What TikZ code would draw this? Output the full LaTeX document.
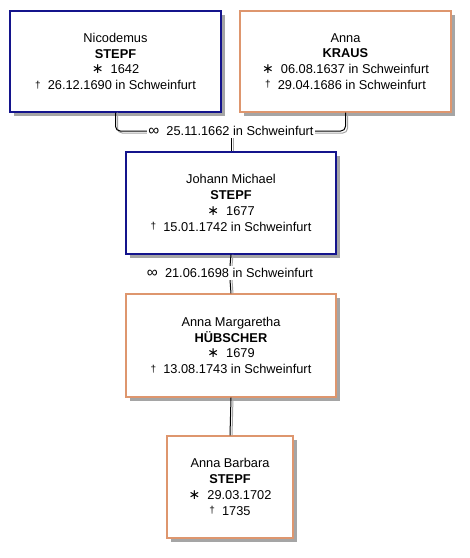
\documentclass[tikz,border=0pt]{standalone}
\usepackage{fontspec}
\setmainfont{Liberation Sans}
\newfontfamily\symf{DejaVu Sans}
\usetikzlibrary{shadows}
\definecolor{navyb}{RGB}{20,20,140}
\definecolor{orangeb}{RGB}{222,150,110}
\definecolor{shadowg}{RGB}{165,165,165}
\newcommand{\bornsym}{{\symf\fontsize{10.5}{10}\selectfont ∗}}
\newcommand{\diedsym}{{\fontsize{7.5}{9}\selectfont\raisebox{1.2pt}{†}}}
\newcommand{\marrsym}{{\fontsize{11.5}{10}\selectfont ∞}}
\tikzset{
  person/.style={draw, line width=0.9pt, fill=white, align=center, inner sep=0pt,
    font=\fontsize{9.6}{11.8}\selectfont,
    drop shadow={shadow xshift=3pt, shadow yshift=-3pt, fill=shadowg, opacity=1}},
  male/.style={person, draw=navyb},
  female/.style={person, draw=orangeb},
  conn/.style={draw=black, line width=0.75pt},
  connsh/.style={draw=shadowg, line width=0.75pt},
  marr/.style={inner xsep=1pt, inner ysep=1.6pt, font=\fontsize{9.6}{11.8}\selectfont},
}
\begin{document}
\begin{tikzpicture}[x=0.75pt, y=-0.75pt]
\useasboundingbox[fill=white] (0,0) rectangle (470,558);

\node[male, minimum width=158.25pt, minimum height=75.75pt] (b1) at (115.5,61.5)
  {Nicodemus\\\textbf{STEPF}\\\bornsym\ \ 1642\\\diedsym\ \ 26.12.1690 in Schweinfurt};
\node[female, minimum width=158.25pt, minimum height=75.75pt] (b2) at (345.5,61.5)
  {Anna\\\textbf{KRAUS}\\\bornsym\ \ 06.08.1637 in Schweinfurt\\\diedsym\ \ 29.04.1686 in Schweinfurt};
\node[male, minimum width=157.5pt, minimum height=76.5pt] (b3) at (231,203)
  {Johann Michael\\\textbf{STEPF}\\\bornsym\ \ 1677\\\diedsym\ \ 15.01.1742 in Schweinfurt};
\node[female, minimum width=157.5pt, minimum height=77.25pt] (b4) at (231,345.5)
  {Anna Margaretha\\\textbf{HÜBSCHER}\\\bornsym\ \ 1679\\\diedsym\ \ 13.08.1743 in Schweinfurt};
\node[female, minimum width=94.5pt, minimum height=76.5pt] (b5) at (230,487)
  {Anna Barbara\\\textbf{STEPF}\\\bornsym\ \ 29.03.1702\\\diedsym\ \ 1735};

\node[marr] (m1) at (231,131) {\marrsym\ \ 25.11.1662 in Schweinfurt};
\node[marr] (m2) at (230,273) {\marrsym\ \ 21.06.1698 in Schweinfurt};

% connector shadows
\draw[connsh, rounded corners=3.5pt] ([xshift=1.5pt]b1.south) |- ([yshift=-1.5pt]m1.west);
\draw[connsh, rounded corners=3.5pt] ([yshift=-1.5pt]m1.east) -| ([xshift=1.5pt]b2.south);
\draw[connsh] ([xshift=1.5pt]m1.south) -- ([xshift=1.5pt]b3.north);
\draw[connsh] ([xshift=1.5pt]b3.south) -- ([xshift=1.5pt]m2.north);
\draw[connsh] ([xshift=1.5pt]m2.south) -- ([xshift=1.5pt]b4.north);
\draw[connsh] ([xshift=1.5pt]b4.south) -- ([xshift=1.5pt]b5.north);
% connectors
\draw[conn, rounded corners=3.5pt] (b1.south) |- (m1.west);
\draw[conn, rounded corners=3.5pt] (m1.east) -| (b2.south);
\draw[conn] (m1.south) -- (b3.north);
\draw[conn] (b3.south) -- (m2.north);
\draw[conn] (m2.south) -- (b4.north);
\draw[conn] (b4.south) -- (b5.north);
\end{tikzpicture}
\end{document}
